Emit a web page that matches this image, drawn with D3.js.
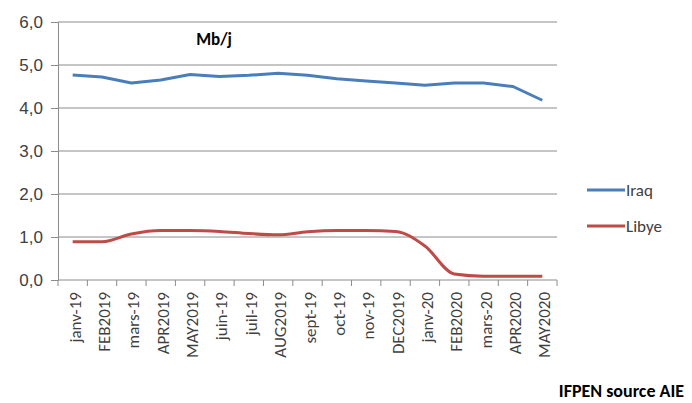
<!DOCTYPE html>
<html>
<head>
<meta charset="utf-8">
<script src="https://cdn.jsdelivr.net/npm/d3@7"></script>
<style>
  html, body { margin: 0; padding: 0; background: #fff; }
  svg { display: block; font-family: Carlito, Lato, "Open Sans", "Liberation Sans", sans-serif; }
</style>
</head>
<body>
<svg id="chart" width="692" height="403"></svg>
<script>
// Monthly crude production, million barrels per day
const months = ["janv-19", "FEB2019", "mars-19", "APR2019", "MAY2019", "juin-19", "juil-19",
  "AUG2019", "sept-19", "oct-19", "nov-19", "DEC2019", "janv-20", "FEB2020", "mars-20",
  "APR2020", "MAY2020"];
const iraq = [4.77, 4.72, 4.58, 4.65, 4.78, 4.73, 4.76, 4.81, 4.76, 4.68, 4.63, 4.58, 4.53,
  4.58, 4.58, 4.50, 4.18];
const libye = [0.89, 0.89, 1.07, 1.15, 1.15, 1.13, 1.08, 1.05, 1.12, 1.15, 1.15, 1.13, 0.79,
  0.14, 0.09, 0.09, 0.09];
const yTicks = [0, 1, 2, 3, 4, 5, 6];
const seriesNames = ["Iraq", "Libye"];
const seriesColors = ["#4a7ebb", "#be4b48"];

const svg = d3.select("#chart");
const plotLeft = 58, plotRight = 557, plotTop = 22, plotBottom = 280;

const x = d3.scaleBand().domain(months).range([plotLeft, plotRight]).padding(0);
const y = d3.scaleLinear().domain([0, 6]).range([plotBottom, plotTop]);
const fmt = v => d3.format(".1f")(v).replace(".", ",");

// horizontal gridlines
svg.append("g").selectAll("line").data(yTicks.filter(d => d > 0)).join("line")
  .attr("x1", plotLeft).attr("x2", plotRight)
  .attr("y1", d => y(d)).attr("y2", d => y(d))
  .attr("stroke", "#8c8c8c").attr("stroke-width", 1);

// y axis
const yAxis = svg.append("g").attr("transform", `translate(${plotLeft},0)`)
  .call(d3.axisLeft(y).tickValues(yTicks).tickFormat(fmt).tickSize(7).tickPadding(8));
yAxis.select(".domain").attr("stroke", "#8c8c8c");
yAxis.selectAll(".tick line").attr("stroke", "#8c8c8c");
yAxis.selectAll("text").attr("font-size", 17).attr("fill", "#404040");

// x axis with ticks at category boundaries
const xAxis = svg.append("g").attr("transform", `translate(0,${plotBottom})`);
xAxis.append("line").attr("x1", plotLeft).attr("x2", plotRight).attr("y1", 0).attr("y2", 0)
  .attr("stroke", "#8c8c8c");
xAxis.selectAll("line.tk").data(months.concat(["__end"])).join("line").attr("class", "tk")
  .attr("x1", (d, i) => i < months.length ? x(d) : plotRight)
  .attr("x2", (d, i) => i < months.length ? x(d) : plotRight)
  .attr("y1", 0).attr("y2", 6).attr("stroke", "#8c8c8c");
xAxis.selectAll("text").data(months).join("text")
  .attr("transform", d => `translate(${x(d) + x.bandwidth() / 2 + 8},12) rotate(-90)`)
  .attr("text-anchor", "end")
  .attr("font-size", 17).attr("fill", "#404040")
  .text(d => d);

// series lines
const curves = [d3.curveLinear, d3.curveMonotoneX];
[iraq, libye].forEach((vals, k) => {
  const line = d3.line()
    .x((d, i) => x(months[i]) + x.bandwidth() / 2)
    .y(d => y(d))
    .curve(curves[k]);
  svg.append("path").datum(vals)
    .attr("d", line).attr("fill", "none")
    .attr("stroke", seriesColors[k]).attr("stroke-width", 3)
    .attr("stroke-linejoin", "round");
});

// unit label
svg.append("text").attr("x", 214).attr("y", 45).attr("text-anchor", "middle")
  .attr("font-size", 17).attr("font-weight", "bold").attr("fill", "#000").text("Mb/j");

// legend
const legend = svg.append("g").selectAll("g").data(seriesNames).join("g")
  .attr("transform", (d, i) => `translate(587,${190 + i * 36})`);
legend.append("line").attr("x1", 0).attr("x2", 38).attr("y1", 0).attr("y2", 0)
  .attr("stroke", (d, i) => seriesColors[i]).attr("stroke-width", 3);
legend.append("text").attr("x", 39).attr("y", 6).attr("font-size", 17).attr("fill", "#404040")
  .text(d => d);

// source note
svg.append("text").attr("x", 684).attr("y", 397).attr("text-anchor", "end")
  .attr("font-size", 18).attr("font-weight", "bold").attr("fill", "#000")
  .text("IFPEN source AIE");
</script>
</body>
</html>
